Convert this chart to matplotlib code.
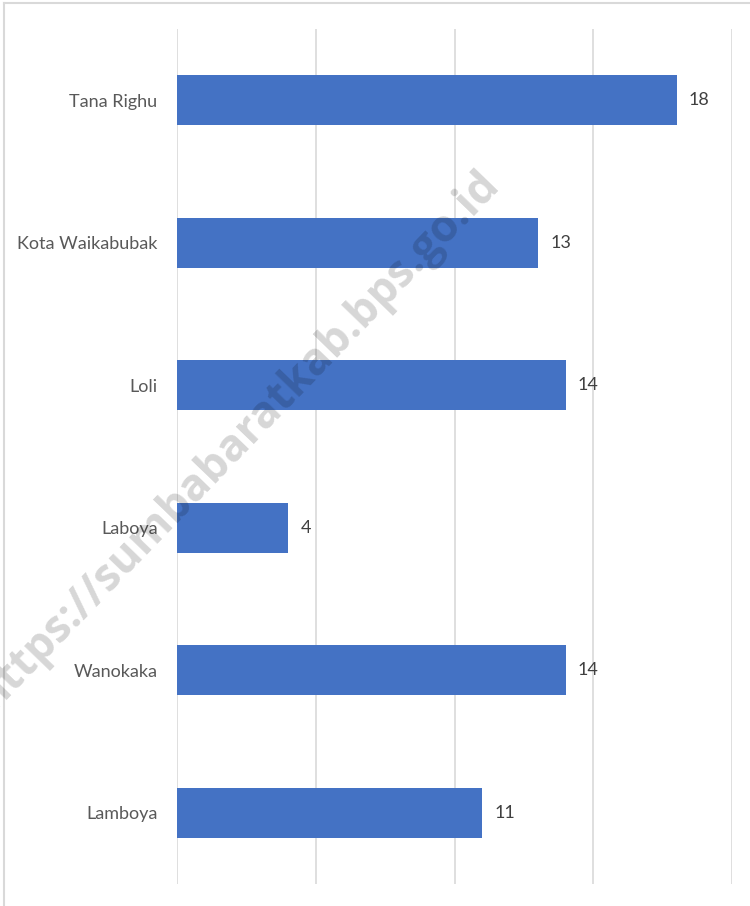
import matplotlib
matplotlib.use("Agg")
import matplotlib.pyplot as plt
from matplotlib.lines import Line2D

categories = ["Tana Righu", "Kota Waikabubak", "Loli", "Laboya", "Wanokaka", "Lamboya"]
values = [18, 13, 14, 4, 14, 11]
watermark = "https://sumbabaratkab.bps.go.id"

W, H = 750, 906
fig = plt.figure(figsize=(W / 100, H / 100), dpi=100)
ax = fig.add_axes([177 / W, 1 - 884 / H, (732 - 177) / W, (884 - 29) / H])

ypos = list(range(len(categories)))[::-1]
ax.barh(ypos, values, height=0.35, color="#4472C4", zorder=2)
ax.set_xlim(0, 20)
ax.set_ylim(-0.5, len(categories) - 0.5)
ax.set_xticks([0, 5, 10, 15, 20])
ax.set_xticklabels([])
ax.tick_params(axis="x", length=0)
ax.tick_params(axis="y", length=0, pad=14)
ax.set_yticks(ypos)
ax.set_yticklabels(categories, fontsize=13, color="#595959", family="Lato")
ax.grid(axis="x", color="#D9D9D9", linewidth=1.2, zorder=0)
for s in ax.spines.values():
    s.set_visible(False)

for y, v in zip(ypos, values):
    ax.text(v + 0.45, y, str(v), va="center", ha="left", fontsize=13,
            color="#404040", family="Lato")

# chart border (top and left visible)
fig.add_artist(Line2D([4 / W, 1], [1 - 3 / H, 1 - 3 / H], color="#D9D9D9", lw=1.5))
fig.add_artist(Line2D([4 / W, 4 / W], [0, 1 - 3 / H], color="#D9D9D9", lw=1.5))

fig.text(238 / W, 1 - 440 / H, watermark, rotation=46, ha="center", va="center",
         fontsize=32, fontweight="bold", color="black", alpha=0.16,
         family="Open Sans", rotation_mode="anchor", zorder=10)

fig.savefig("out.png", dpi=100, facecolor="white")
